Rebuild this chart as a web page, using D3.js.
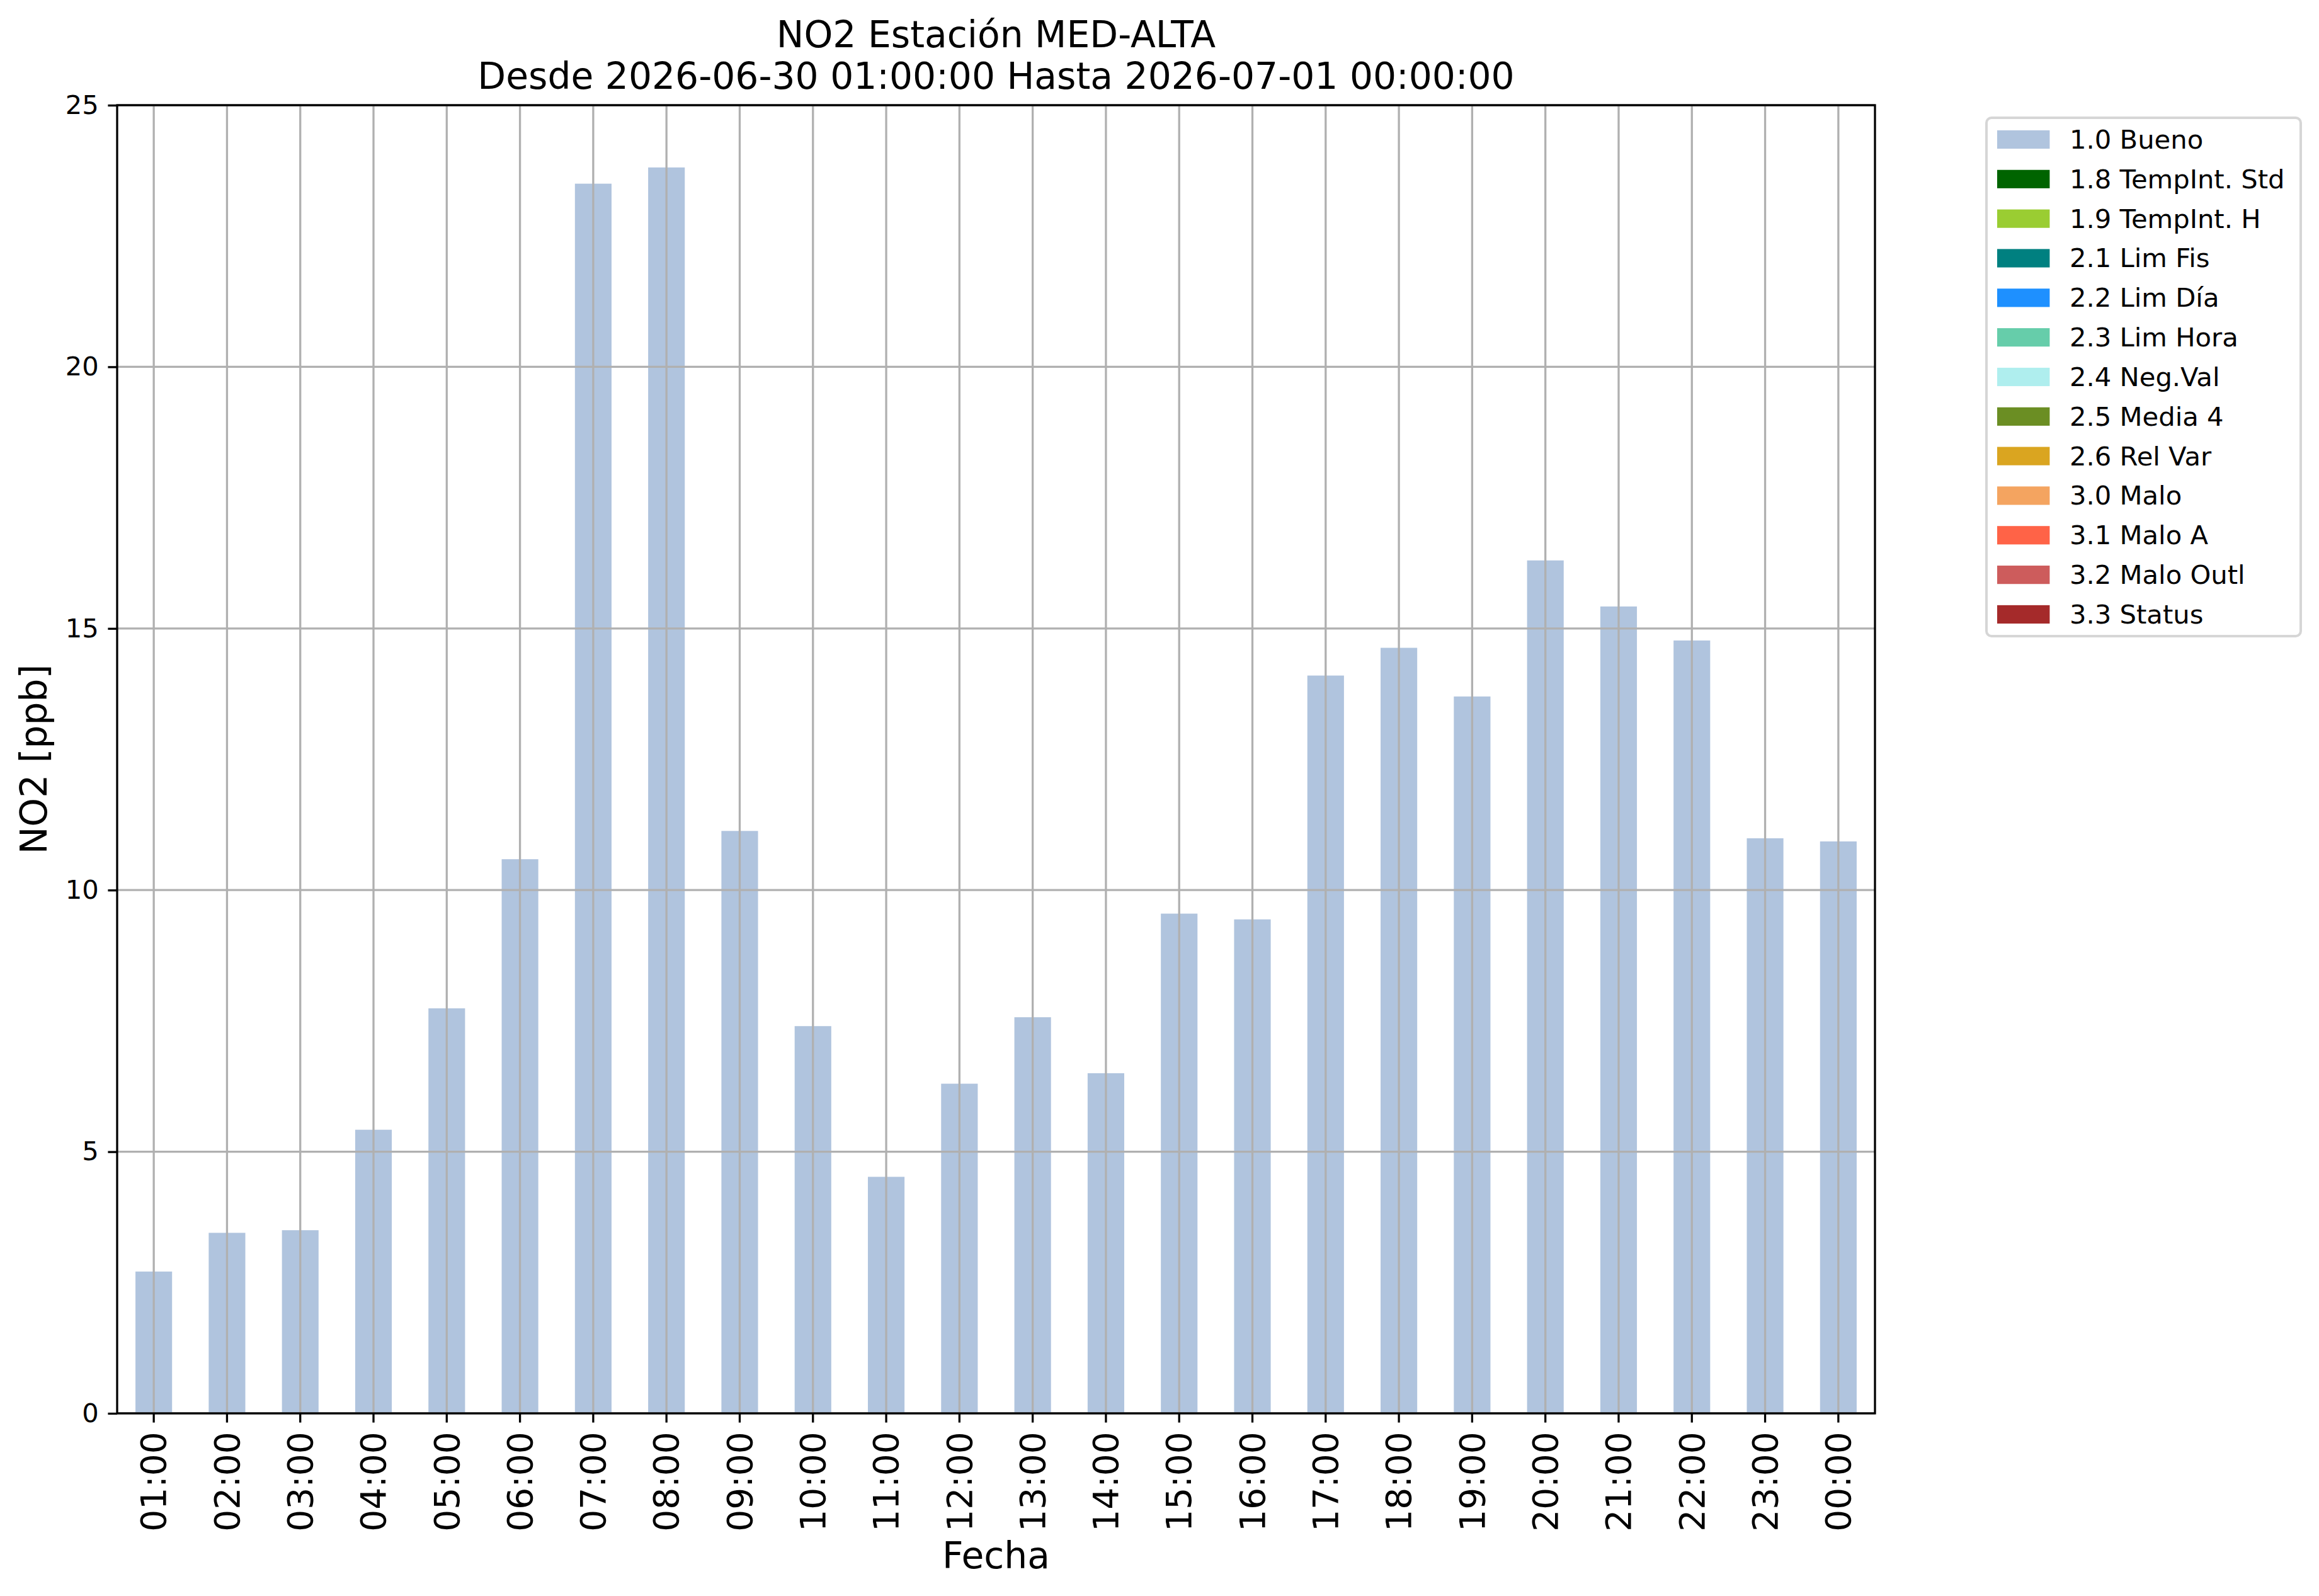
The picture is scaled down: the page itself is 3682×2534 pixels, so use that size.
<!DOCTYPE html>
<html>
<head>
<meta charset="utf-8">
<script src="https://cdn.jsdelivr.net/npm/d3@7"></script>
<style>
  body { margin: 0; background: #fff; }
  svg text { font-family: "DejaVu Sans", sans-serif; fill: #000; }
</style>
</head>
<body>
<div id="chart"></div>
<script>
// hourly NO2 values, MED-ALTA station
var horas = ['01:00','02:00','03:00','04:00','05:00','06:00','07:00','08:00',
             '09:00','10:00','11:00','12:00','13:00','14:00','15:00','16:00',
             '17:00','18:00','19:00','20:00','21:00','22:00','23:00','00:00'];
var no2 = [2.71, 3.45, 3.50, 5.42, 7.74, 10.59, 23.50, 23.81,
           11.13, 7.40, 4.52, 6.30, 7.57, 6.50, 9.55, 9.44,
           14.10, 14.63, 13.70, 16.30, 15.42, 14.77, 10.99, 10.93];
var yTicks = [0, 5, 10, 15, 20, 25];

var flagLabels = ['1.0 Bueno','1.8 TempInt. Std','1.9 TempInt. H','2.1 Lim Fis','2.2 Lim Día',
                  '2.3 Lim Hora','2.4 Neg.Val','2.5 Media 4','2.6 Rel Var','3.0 Malo',
                  '3.1 Malo A','3.2 Malo Outl','3.3 Status'];
var flagColors = ['#b0c4de','#006400','#9acd32','#008080','#1e90ff',
                  '#66cdaa','#afeeee','#6b8e23','#daa520','#f4a460',
                  '#ff6347','#cd5c5c','#a52a2a'];

var W = 3682, H = 2534;
var margin = {top: 167, right: 705, bottom: 290, left: 186},
    width = W - margin.left - margin.right,
    height = H - margin.top - margin.bottom;

var data = horas.map(function(h, i){ return {hora: h, value: no2[i]}; });

var svg = d3.select('#chart').append('svg')
    .attr('width', W)
    .attr('height', H);

var g = svg.append('g')
    .attr('transform', 'translate(' + margin.left + ',' + margin.top + ')');

var x = d3.scaleBand()
    .domain(horas)
    .range([0, width])
    .paddingInner(0.5)
    .paddingOuter(0.25);

var y = d3.scaleLinear()
    .domain([0, 25])
    .range([height, 0]);

// bars
g.selectAll('.bar')
    .data(data)
  .enter().append('rect')
    .attr('class', 'bar')
    .attr('x', function(d){ return x(d.hora); })
    .attr('width', x.bandwidth())
    .attr('y', function(d){ return y(d.value); })
    .attr('height', function(d){ return height - y(d.value); })
    .style('fill', flagColors[0]);

// grid goes on top of the bars, like matplotlib does
var grid = g.append('g').attr('class', 'grid');
grid.selectAll('.vgrid')
    .data(horas)
  .enter().append('line')
    .attr('x1', function(d){ return x(d) + x.bandwidth()/2; })
    .attr('x2', function(d){ return x(d) + x.bandwidth()/2; })
    .attr('y1', 0).attr('y2', height)
    .style('stroke', '#b0b0b0').style('stroke-width', 3.3);
grid.selectAll('.hgrid')
    .data(yTicks)
  .enter().append('line')
    .attr('x1', 0).attr('x2', width)
    .attr('y1', function(d){ return y(d); })
    .attr('y2', function(d){ return y(d); })
    .style('stroke', '#b0b0b0').style('stroke-width', 3.3);

var xAxis = d3.axisBottom(x).tickSize(14.6).tickPadding(14.6);
var yAxis = d3.axisLeft(y).tickValues(yTicks).tickSize(14.6).tickPadding(14.6);

var gx = g.append('g')
    .attr('class', 'x axis')
    .attr('transform', 'translate(0,' + height + ')')
    .call(xAxis);
gx.select('.domain').remove();
gx.selectAll('line').style('stroke-width', 3.3);
gx.selectAll('text')
    .style('font-size', '55px')
    .style('text-anchor', 'end')
    .attr('x', -29.2)
    .attr('y', 0)
    .attr('dy', '0.35em')
    .attr('transform', 'rotate(-90)');

var gy = g.append('g')
    .attr('class', 'y axis')
    .call(yAxis);
gy.select('.domain').remove();
gy.selectAll('line').style('stroke-width', 3.3);
gy.selectAll('text').style('font-size', '41.7px');

// frame
g.append('rect')
    .attr('width', width)
    .attr('height', height)
    .style('fill', 'none')
    .style('stroke', '#000')
    .style('stroke-width', 3.3);

// titles and labels
svg.append('text')
    .attr('x', margin.left + width/2).attr('y', 75)
    .style('text-anchor', 'middle').style('font-size', '58.3px')
    .text('NO2 Estación MED-ALTA');
svg.append('text')
    .attr('x', margin.left + width/2).attr('y', 140.5)
    .style('text-anchor', 'middle').style('font-size', '58.3px')
    .text('Desde 2026-06-30 01:00:00 Hasta 2026-07-01 00:00:00');

svg.append('text')
    .attr('x', margin.left + width/2).attr('y', 2490)
    .style('text-anchor', 'middle').style('font-size', '58.3px')
    .text('Fecha');

svg.append('text')
    .attr('transform', 'translate(74,' + (margin.top + height/2) + ') rotate(-90)')
    .style('text-anchor', 'middle').style('font-size', '58.3px')
    .text('NO2 [ppb]');

// legend
var lg = svg.append('g').attr('transform', 'translate(3154,187)');
var rowH = 62.83;
lg.append('rect')
    .attr('width', 499)
    .attr('height', 34.5 * 2 + rowH * (flagLabels.length - 1))
    .attr('rx', 8).attr('ry', 8)
    .style('fill', '#fff')
    .style('stroke', '#d6d6d6')
    .style('stroke-width', 4);

var item = lg.selectAll('.item')
    .data(flagLabels)
  .enter().append('g')
    .attr('class', 'item')
    .attr('transform', function(d, i){ return 'translate(0,' + (34.5 + i * rowH) + ')'; });
item.append('rect')
    .attr('x', 17).attr('y', -14.6)
    .attr('width', 83.4).attr('height', 29.2)
    .style('fill', function(d, i){ return flagColors[i]; });
item.append('text')
    .attr('x', 132).attr('y', 14.5)
    .style('font-size', '41.7px')
    .text(function(d){ return d; });
</script>
</body>
</html>
